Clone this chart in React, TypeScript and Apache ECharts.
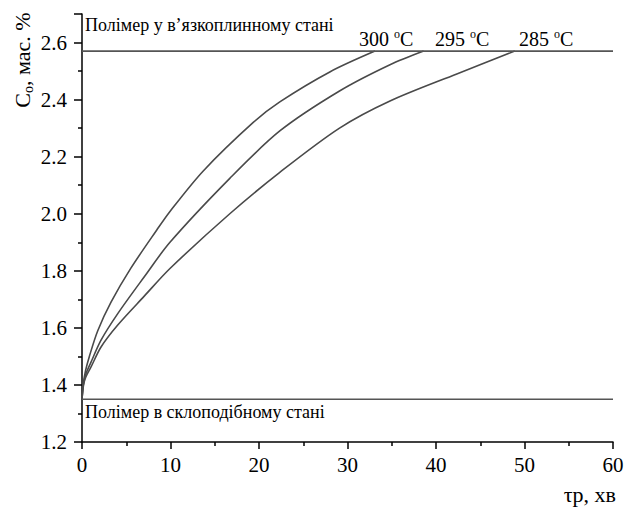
import React, { useEffect, useRef } from "react";
import * as echarts from "echarts";

const FONT = "Liberation Serif";

// time, min
const t300 = [0, 0.15, 0.4, 0.83, 1.78, 3.28, 5.54, 8.45, 9.94, 13.7, 19.35, 22.35, 28.0, 33.1];
const c300 = [1.35, 1.405, 1.45, 1.5, 1.59, 1.69, 1.81, 1.943, 2.008, 2.15, 2.32, 2.392, 2.497, 2.57];

const t295 = [0, 0.15, 0.4, 1.02, 2.15, 4.04, 7.06, 9.94, 16.7, 22.35, 29.1, 34.8, 38.6];
const c295 = [1.35, 1.4, 1.435, 1.48, 1.557, 1.65, 1.78, 1.9, 2.124, 2.29, 2.43, 2.522, 2.57];

const t285 = [0, 0.15, 0.4, 1.02, 2.15, 4.04, 7.06, 9.94, 16.7, 22.35, 29.1, 34.8, 42.35, 48.9];
const c285 = [1.35, 1.395, 1.425, 1.463, 1.533, 1.61, 1.712, 1.808, 2.0, 2.145, 2.3, 2.395, 2.49, 2.57];

const viscousLevel = 2.57;
const glassLevel = 1.35;
const xRange = [0, 60];

const seriesNames = ["300", "295", "285"];
const labelText = "Полімер у в’язкоплинному стані";
const labelText2 = "Полімер в склоподібному стані";

function pairs(t: number[], c: number[]) {
  return t.map((v, i) => [v, c[i]]);
}

export default function App() {
  const ref = useRef<HTMLDivElement>(null);
  useEffect(() => {
    if (!ref.current) return;
    const chart = echarts.init(ref.current, null, { renderer: "svg" });
    const lineStyle = { color: "#4a4a4a", width: 1.6 };
    const curves = [
      pairs(t300, c300),
      pairs(t295, c295),
      pairs(t285, c285),
    ];
    chart.setOption({
      animation: false,
      backgroundColor: "#ffffff",
      grid: { left: 82, right: 14, top: 14, bottom: 66, containLabel: false },
      xAxis: {
        type: "value",
        min: 0,
        max: 60,
        interval: 10,
        axisLine: { show: true, onZero: false, lineStyle: { color: "#000", width: 1.5 } },
        axisTick: { show: true, inside: false, length: 7, lineStyle: { color: "#000", width: 1.5 } },
        minorTick: { show: true, splitNumber: 2, length: 4, lineStyle: { color: "#000", width: 1.5 } },
        splitLine: { show: false },
        axisLabel: { color: "#000", fontSize: 21, fontFamily: FONT, margin: 12 },
      },
      yAxis: {
        type: "value",
        min: 1.2,
        max: 2.7,
        interval: 0.2,
        axisLine: { show: true, onZero: false, lineStyle: { color: "#000", width: 1.5 } },
        axisTick: { show: true, inside: false, length: 8, lineStyle: { color: "#000", width: 1.5 } },
        minorTick: { show: true, splitNumber: 2, length: 4, lineStyle: { color: "#000", width: 1.5 } },
        splitLine: { show: false },
        axisLabel: {
          color: "#000",
          fontSize: 21,
          fontFamily: FONT,
          margin: 15,
          formatter: (v: number) => (v > 2.65 ? "" : v.toFixed(1)),
        },
      },
      series: [
        ...curves.map((d, i) => ({
          name: seriesNames[i],
          type: "line",
          data: d,
          smooth: 0.3,
          showSymbol: false,
          symbol: "none",
          lineStyle,
          z: 3,
        })),
        {
          name: "viscous",
          type: "line",
          data: [[xRange[0], viscousLevel], [xRange[1], viscousLevel]],
          showSymbol: false,
          symbol: "none",
          lineStyle: { color: "#555", width: 1.6 },
        },
        {
          name: "glass",
          type: "line",
          data: [[xRange[0], glassLevel], [xRange[1], glassLevel]],
          showSymbol: false,
          symbol: "none",
          lineStyle: { color: "#555", width: 1.6 },
        },
      ],
      graphic: [
        {
          type: "text",
          x: 85,
          y: 25,
          style: { text: labelText, fontSize: 18, fontFamily: FONT, fill: "#000", align: "left", verticalAlign: "middle" },
        },
        {
          type: "text",
          x: 85,
          y: 412,
          style: { text: labelText2, fontSize: 18, fontFamily: FONT, fill: "#000", align: "left", verticalAlign: "middle" },
        },
        ...[
          { x: 359, n: seriesNames[0] },
          { x: 435, n: seriesNames[1] },
          { x: 519, n: seriesNames[2] },
        ].map((o) => ({
          type: "text",
          x: o.x,
          y: 39,
          style: {
            text: `{a|${o.n} }{b|o}{a|C}`,
            fill: "#000",
            align: "left",
            verticalAlign: "middle",
            rich: {
              a: { fontSize: 20, fontFamily: FONT, fill: "#000", lineHeight: 22 },
              b: { fontSize: 12, fontFamily: FONT, fill: "#000", verticalAlign: "top", lineHeight: 14 },
            },
          },
        })),
        {
          type: "text",
          x: 22,
          y: 60,
          rotation: Math.PI / 2,
          style: {
            text: "{a|C}{b|o}{a|, мас. %}",
            fill: "#000",
            align: "center",
            verticalAlign: "middle",
            rich: {
              a: { fontSize: 22, fontFamily: FONT, fill: "#000", lineHeight: 26 },
              b: { fontSize: 14, fontFamily: FONT, fill: "#000", verticalAlign: "bottom", lineHeight: 16 },
            },
          },
        },
        {
          type: "text",
          x: 616,
          y: 494,
          style: { text: "τр, хв", fontSize: 22, fontFamily: FONT, fill: "#000", align: "right", verticalAlign: "middle" },
        },
      ],
    });
    return () => chart.dispose();
  }, []);
  return (
    <div
      ref={ref}
      style={{ position: "fixed", left: 0, top: 0, width: 627, height: 508, background: "#fff" }}
    />
  );
}
